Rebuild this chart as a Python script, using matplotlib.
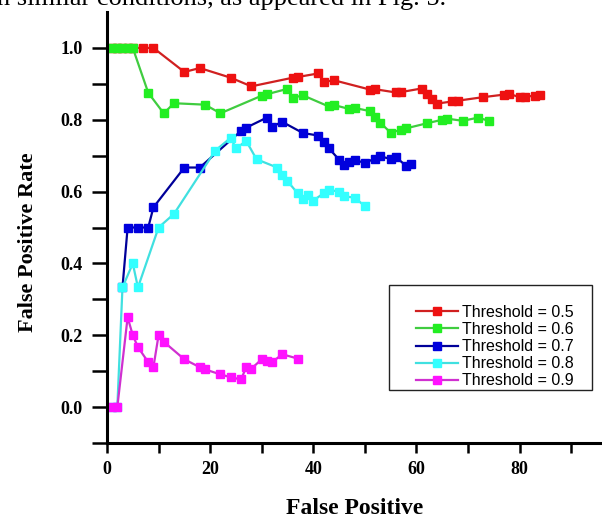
import matplotlib
matplotlib.use("Agg")
import matplotlib.pyplot as plt
from matplotlib.patches import Rectangle

# ---- data ----
red_x = [1, 2, 3, 4, 5, 7, 9, 15, 18, 24, 28, 36, 37, 41, 42, 44, 51, 52, 56, 57,
         61, 62, 63, 64, 67, 68, 73, 77, 78, 80, 81, 83, 84]
red_y = [1, 1, 1, 1, 1, 1, 1, 0.933, 0.944, 0.917, 0.893, 0.917, 0.919, 0.929, 0.905,
         0.910, 0.884, 0.885, 0.876, 0.877, 0.887, 0.871, 0.857, 0.845, 0.851, 0.853,
         0.863, 0.870, 0.872, 0.863, 0.864, 0.867, 0.869]

green_x = [1, 2, 3, 4, 5, 8, 11, 13, 19, 22, 30, 31, 35, 36, 38, 43, 44, 47, 48, 51,
           52, 53, 55, 57, 58, 62, 65, 66, 69, 72, 74]
green_y = [1, 1, 1, 1, 1, 0.875, 0.818, 0.846, 0.842, 0.818, 0.867, 0.871, 0.886,
           0.861, 0.868, 0.837, 0.841, 0.830, 0.833, 0.824, 0.808, 0.792, 0.764,
           0.772, 0.776, 0.790, 0.800, 0.803, 0.797, 0.806, 0.797]

blue_x = [3, 4, 6, 8, 9, 15, 18, 26, 27, 31, 32, 34, 38, 41, 42, 43, 45, 46, 47, 48,
          50, 52, 53, 55, 56, 58, 59]
blue_y = [0.333, 0.5, 0.5, 0.5, 0.556, 0.667, 0.667, 0.769, 0.778, 0.806, 0.781,
          0.794, 0.763, 0.756, 0.738, 0.721, 0.689, 0.674, 0.681, 0.688, 0.680,
          0.692, 0.698, 0.691, 0.696, 0.672, 0.678]

cyan_x = [1, 2, 3, 5, 6, 10, 13, 21, 24, 25, 27, 29, 33, 34, 35, 37, 38, 39, 40, 42,
          43, 45, 46, 48, 50]
cyan_y = [0, 0, 0.333, 0.4, 0.333, 0.5, 0.538, 0.714, 0.75, 0.72, 0.741, 0.690,
          0.667, 0.647, 0.629, 0.595, 0.579, 0.590, 0.575, 0.595, 0.605, 0.600,
          0.587, 0.583, 0.560]

magenta_x = [1, 2, 4, 5, 6, 8, 9, 10, 11, 15, 18, 19, 22, 24, 26, 27, 28, 30, 31,
             32, 34, 37]
magenta_y = [0, 0, 0.25, 0.2, 0.167, 0.125, 0.111, 0.2, 0.182, 0.133, 0.111, 0.105,
             0.091, 0.083, 0.077, 0.111, 0.107, 0.133, 0.129, 0.125, 0.147, 0.135]

labels = ["Threshold = 0.5", "Threshold = 0.6", "Threshold = 0.7",
          "Threshold = 0.8", "Threshold = 0.9"]
x_ticks = [0, 20, 40, 60, 80]
y_ticks = [0.0, 0.2, 0.4, 0.6, 0.8, 1.0]

series = [(red_x, red_y), (green_x, green_y), (blue_x, blue_y),
          (cyan_x, cyan_y), (magenta_x, magenta_y)]
line_colors = ["#d02020", "#40cc40", "#000099", "#40e0e0", "#d030d0"]
marker_colors = ["#ee1111", "#22ee22", "#0000dd", "#33ffff", "#ff11ff"]

serif = ["Liberation Serif", "DejaVu Serif"]
sans = ["Liberation Sans", "DejaVu Sans"]

fig = plt.figure(figsize=(6.02, 5.18), dpi=100)
ax = fig.add_axes([107 / 602, 1 - 443 / 518, 495 / 602, 431 / 518])

handles = []
for (xs, ys), lc, mc, lab in zip(series, line_colors, marker_colors, labels):
    h, = ax.plot(xs, ys, color=lc, lw=1.6, marker="s", ms=6,
                 mfc=mc, mec=mc, label=lab)
    handles.append(h)

ax.set_xlim(0, 96)
ax.set_ylim(-0.1, 1.1)
ax.set_xticks(x_ticks)
ax.set_xticks([10, 30, 50, 70, 90], minor=True)
ax.set_yticks(y_ticks)
ax.set_yticks([-0.1, 0.1, 0.3, 0.5, 0.7, 0.9], minor=True)
ax.set_xticklabels([str(v) for v in x_ticks], fontfamily=serif,
                   fontweight="bold", fontsize=13)
ax.set_yticklabels([f"{v:.1f}" for v in y_ticks], fontfamily=serif,
                   fontweight="bold", fontsize=13)

for s in ["top", "right"]:
    ax.spines[s].set_visible(False)
for s in ["left", "bottom"]:
    ax.spines[s].set_linewidth(2.2)
    ax.spines[s].set_color("black")

ax.tick_params(axis="y", which="both", direction="out", length=10.5, width=1.8, pad=7)
ax.tick_params(axis="x", which="both", direction="out", length=7, width=1.8, pad=6)

ax.set_xlabel("False Positive", fontfamily=serif, fontweight="bold",
              fontsize=17, labelpad=14)
ax.set_ylabel("False Positive Rate", fontfamily=serif, fontweight="bold",
              fontsize=16)
ax.yaxis.set_label_coords((38 - 107) / 495, (443 - 242) / 431)

# legend (frame drawn separately to match the uneven padding)
leg = ax.legend(handles=handles, loc="upper left",
                bbox_to_anchor=((416 - 107) / 495, (443 - 305) / 431),
                frameon=False, prop={"family": sans, "size": 11.5},
                handlelength=2.6, handletextpad=0.3, labelspacing=0.13,
                borderpad=0.0, borderaxespad=0.0)
rect = Rectangle(((389 - 107) / 495, (443 - 390) / 431), (592 - 389) / 495,
                 (390 - 285) / 431, transform=ax.transAxes, fill=True,
                 facecolor="white", edgecolor="#222222", lw=1.0, zorder=4)
ax.add_patch(rect)
leg.set_zorder(5)

# partial caption line from the source page
fig.text(-0.005, 1 - 5.5 / 518, "n similar conditions, as appeared in Fig. 5.",
         fontfamily=serif, fontsize=19, va="baseline", ha="left")

fig.savefig("out.png", dpi=100)
